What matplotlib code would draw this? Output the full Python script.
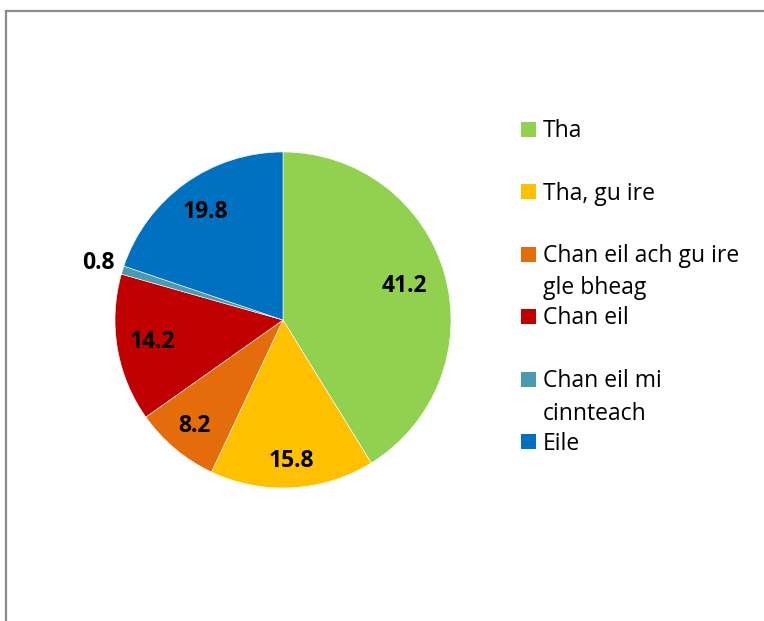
import numpy as np
import matplotlib.pyplot as plt
from matplotlib.lines import Line2D
from matplotlib.patches import Rectangle

labels = ['Tha', 'Tha, gu ire', 'Chan eil ach gu ire\ngle bheag', 'Chan eil',
          'Chan eil mi\ncinnteach', 'Eile']
values = [41.2, 15.8, 8.2, 14.2, 0.8, 19.8]
colors = ['#92D050', '#FFC000', '#E46C0A', '#C00000', '#4A9BB0', '#0070C0']
# radial position of each value label (fraction of radius)
label_r = [0.75, 0.84, 0.82, 0.79, 1.15, 0.79]

W, H = 764, 621
fig = plt.figure(figsize=(W / 100, H / 100), dpi=100)

# pie axes: centre (283, 320), radius 168 px
cx, cy, r = 283, 320, 168
ax = fig.add_axes([(cx - r) / W, (H - cy - r) / H, 2 * r / W, 2 * r / H])
wedges, _ = ax.pie(values, colors=colors, startangle=90, counterclock=False,
                   radius=1, wedgeprops=dict(edgecolor='white', linewidth=0.4))
ax.set_xlim(-1, 1)
ax.set_ylim(-1, 1)
ax.set_aspect('equal')
ax.axis('off')

# value labels
total = sum(values)
cum = 0
for v, lr in zip(values, label_r):
    mid = 90 - 360 * (cum + v / 2) / total
    cum += v
    a = np.deg2rad(mid)
    ax.text(lr * np.cos(a), lr * np.sin(a), f'{v:.1f}', ha='center', va='center',
            fontsize=16.5, fontweight='bold', family='Open Sans', color='black')

# legend drawn by hand (Excel-like spacing)
y0, dy = 129, 62.5
for i, (lab, c) in enumerate(zip(labels, colors)):
    y = y0 + i * dy
    fig.patches.append(Rectangle((521 / W, (H - y - 7.5) / H), 15 / W, 15 / H,
                                 transform=fig.transFigure, facecolor=c,
                                 edgecolor='none'))
    for j, ln in enumerate(lab.split('\n')):
        fig.text(543 / W, (H - y - 2 - j * 32.5) / H, ln, ha='left', va='center',
                 fontsize=16.5, family='Open Sans')

# chart frame: only top and left edges visible
fig.add_artist(Line2D([5.5 / W, 1], [(H - 11) / H, (H - 11) / H],
                      transform=fig.transFigure, color='#8c8c8c', linewidth=1.6))
fig.add_artist(Line2D([5.5 / W, 5.5 / W], [0, (H - 11) / H],
                      transform=fig.transFigure, color='#8c8c8c', linewidth=1.6))

fig.savefig('out.png', dpi=100)
